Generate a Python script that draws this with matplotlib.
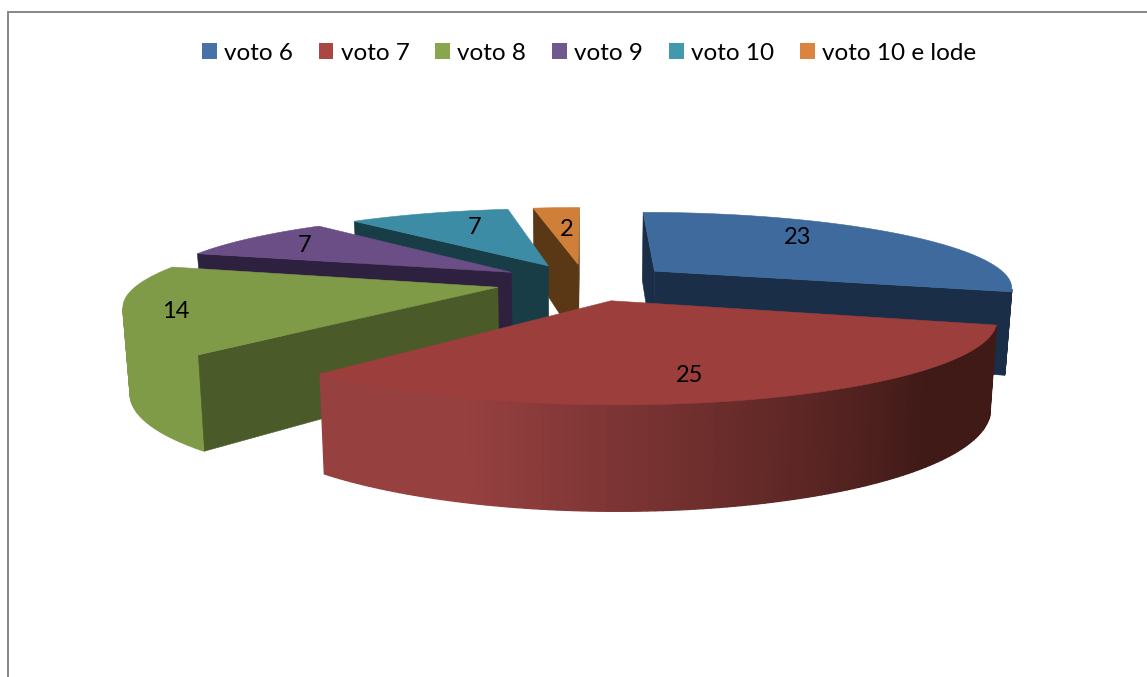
import numpy as np
import matplotlib
matplotlib.use("Agg")
import matplotlib.pyplot as plt
import matplotlib.colors as mcolors
from matplotlib.patches import Patch, Polygon

# chart values
labels = ["voto 6", "voto 7", "voto 8", "voto 9", "voto 10", "voto 10 e lode"]
values = [23, 25, 14, 7, 7, 2]

# colours, one per slice
legend_colors = ["#4572A7", "#AA4643", "#89A54E", "#71588F", "#4198AF", "#DB843D"]
top_colors = ["#3F6A9D", "#9C3E3C", "#7F9B48", "#6A4E85", "#3D8CA6", "#CF7F38"]
side_colors = ["#1A2E48", "#4A1C1A", "#4A5A28", "#2E2140", "#193D47", "#5A3816"]
# outer wall shading: colour at the start and the end of the slice
wall_start = ["#1A2E48", "#3F1A17", "#7F9B48", "#2E2140", "#193D47", "#5A3816"]
wall_end = ["#1A2E48", "#964040", "#7F9B48", "#2E2140", "#193D47", "#5A3816"]

# data label positions in pixels
label_xy = [(798, 238), (690, 375), (176, 312), (305, 246), (475, 228), (567, 229)]

# projection settings (pixels)
CX, CY = 585, 282
SCALE_X, SCALE_Y, DEPTH = 358, 74.5, 81.5
PERSP, SHRINK = 0.2, 0.016
EXPLODE = 0.25

W, H = 1147, 677


def project(x, y, z=0.0):
    s = 1.0 / (1.0 + PERSP * y)
    shrink = 1.0 - SHRINK * z
    return CX + SCALE_X * x * s * shrink, CY - SCALE_Y * y * s * shrink + DEPTH * s * z


def slice_outline(start, end):
    # outline in clockwise order: arc first, then back through the apex
    mid = (start + end) / 2
    ox, oy = EXPLODE * np.sin(mid), EXPLODE * np.cos(mid)
    n = max(int(np.degrees(end - start)), 3)
    th = np.linspace(start, end, n + 1)
    xs = np.append(ox + np.sin(th), ox)
    ys = np.append(oy + np.cos(th), oy)
    return th, xs, ys


def draw_slice(ax, i, start, end):
    th, xs, ys = slice_outline(start, end)
    n = len(xs)
    light = np.array(mcolors.to_rgb(wall_end[i]))
    dark = np.array(mcolors.to_rgb(wall_start[i]))
    for k in range(n):
        j = (k + 1) % n
        quad = [project(xs[k], ys[k]), project(xs[j], ys[j]),
                project(xs[j], ys[j], 1.0), project(xs[k], ys[k], 1.0)]
        q = np.array(quad)
        area = np.sum(q[:, 0] * np.roll(q[:, 1], -1) - np.roll(q[:, 0], -1) * q[:, 1])
        # only faces turned to the viewer
        if area >= 0:
            continue
        if k < len(th) - 1:
            f = (th[k] - start) / (end - start)
            color = dark + (light - dark) * np.clip((f - 0.25) / 0.55, 0, 1)
            lw = 1.0
        else:
            color = side_colors[i]
            lw = 0.4
        ax.add_patch(Polygon(quad, closed=True, facecolor=color, edgecolor=color, lw=lw))
    top = [project(x, y) for x, y in zip(xs, ys)]
    ax.add_patch(Polygon(top, closed=True, facecolor=top_colors[i], edgecolor=top_colors[i], lw=0.4))


plt.rcParams["font.family"] = ["Lato", "DejaVu Sans"]
fig = plt.figure(figsize=(W / 100, H / 100), dpi=100)
ax = fig.add_axes([0, 0, 1, 1])
ax.set_xlim(0, W)
ax.set_ylim(H, 0)
ax.axis("off")

# chart frame, cut off by the picture on the right and at the bottom
ax.plot([7.5, 7.5, W], [H, 12, 12], color="#868686", lw=1.4, solid_joinstyle="miter")

edges = np.cumsum([0] + values) / sum(values) * 2 * np.pi
# back to front
mids = (edges[:-1] + edges[1:]) / 2
for i in np.argsort(-np.cos(mids)):
    draw_slice(ax, i, edges[i], edges[i + 1])

for (x, y), v in zip(label_xy, values):
    ax.text(x, y, str(v), fontsize=17, color="black", ha="center", va="center")

handles = [Patch(facecolor=c, edgecolor="none") for c in legend_colors]
ax.legend(handles, labels, ncol=6, loc="center", bbox_to_anchor=(589 / W, 1 - 53 / H),
          frameon=False, fontsize=17.5, handlelength=0.6, handleheight=0.6,
          handletextpad=0.3, columnspacing=1.07, borderpad=0)

fig.savefig("out.png", dpi=100)
